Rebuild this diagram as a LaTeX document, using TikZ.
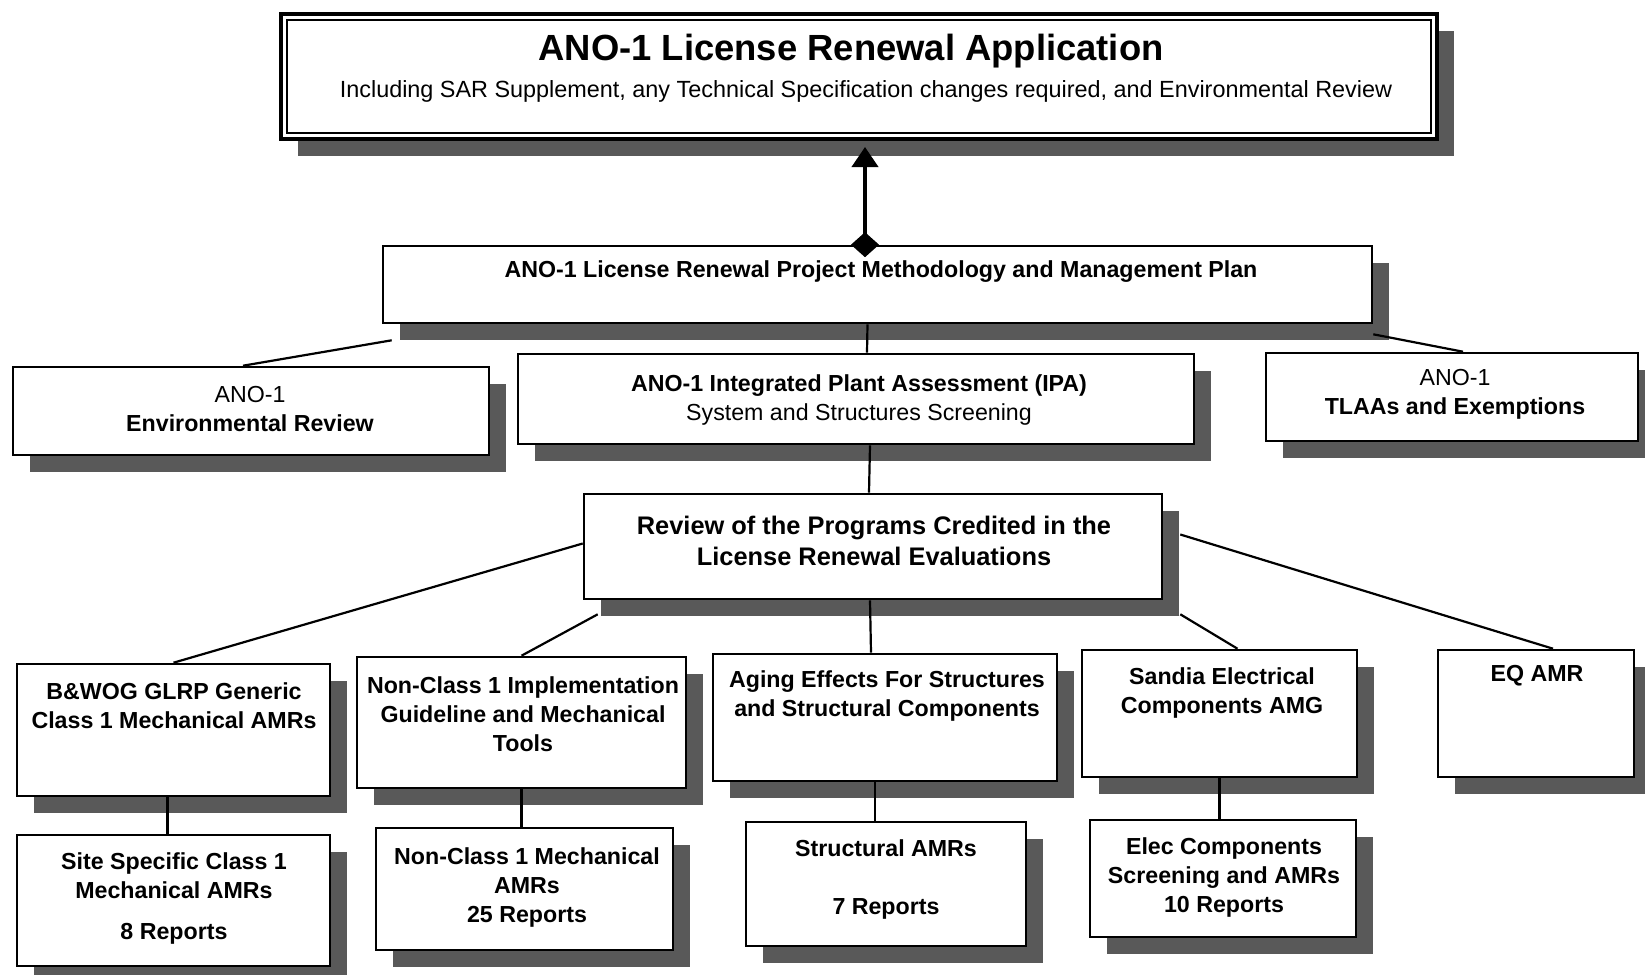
\documentclass[tikz,border=0pt]{standalone}
\usepackage{fontspec}
\setmainfont{Liberation Sans}
\usetikzlibrary{arrows.meta,shadows,fit}

\begin{document}
\begin{tikzpicture}[x=0.5pt,y=-0.5pt,
  box/.style={draw, line width=1.3pt, fill=white, inner sep=0pt,
    drop shadow={shadow xshift=8.5pt, shadow yshift=-8.5pt, fill=black!65, opacity=1}},
  txt/.style={align=center, inner sep=0pt, font=\fontsize{11.6}{14.5}\selectfont\bfseries},
  link/.style={line width=1.1pt}]
\useasboundingbox (0,0) rectangle (1645,975);

% top level
\node[box, line width=2pt, fit={(281,14) (1437,139)}] (app) {};
\draw[line width=0.8pt] ([shift={(8,8)}]app.north west) rectangle ([shift={(-8,-8)}]app.south east);
\node[txt, font=\fontsize{18.2}{22}\selectfont\bfseries] (app-t) at (851,51) {ANO-1 License Renewal Application};
\node[txt, font=\fontsize{11.7}{14}\selectfont] (app-s) at (866,91) {Including SAR Supplement, any Technical Specification changes required, and Environmental Review};

\node[box, fit={(383,246) (1372,323)}] (plan) {};
\node[txt] (plan-t) at (881,272) {ANO-1 License Renewal Project Methodology and Management Plan};

% second row
\node[box, fit={(13,367) (489,455)}] (env) {};
\node[box, fit={(518,354) (1194,444)}] (ipa) {};
\node[box, fit={(1266,353) (1638,441)}] (tlaa) {};
\node[txt] (env-t) at (250,409) {{\mdseries ANO-1}\\Environmental Review};
\node[txt] (ipa-t) at (859,400) {ANO-1 Integrated Plant Assessment (IPA)\\{\mdseries System and Structures Screening}};
\node[txt] (tlaa-t) at (1455,394) {{\mdseries ANO-1}\\TLAAs and Exemptions};

\node[box, fit={(584,494) (1162,599)}] (review) {};
\node[txt, font=\fontsize{12.7}{15.8}\selectfont\bfseries] (review-t) at (874,541) {Review of the Programs Credited in the\\License Renewal Evaluations};

% programs
\node[box, fit={(17,664) (330,796)}] (bwog) {};
\node[box, fit={(357,657) (686,788)}] (impl) {};
\node[box, fit={(713,654) (1057,781)}] (aging) {};
\node[box, fit={(1082,650) (1357,777)}] (sandia) {};
\node[box, fit={(1438,650) (1634,777)}] (eq) {};
\node[txt] (bwog-t) at (174,706) {B\&WOG GLRP Generic\\Class 1 Mechanical AMRs};
\node[txt] (impl-t) at (523,714) {Non-Class 1 Implementation\\Guideline and Mechanical\\Tools};
\node[txt] (aging-t) at (887,696) {Aging Effects For Structures\\and Structural Components};
\node[txt] (sandia-t) at (1222,693) {Sandia Electrical\\Components AMG};
\node[txt] (eq-t) at (1537,676) {EQ AMR};

% reports
\node[box, fit={(17,835) (330,966)}] (site) {};
\node[box, fit={(376,828) (673,950)}] (mech) {};
\node[box, fit={(746,822) (1026,946)}] (struct) {};
\node[box, fit={(1090,820) (1356,937)}] (elec) {};
\node[txt] (site-t) at (174,898) {Site Specific Class 1\\Mechanical AMRs\\[6pt]8 Reports};
\node[txt] (mech-t) at (527,887) {Non-Class 1 Mechanical\\AMRs\\25 Reports};
\node[txt] (struct-t) at (886,879) {Structural AMRs\\[14.5pt]7 Reports};
\node[txt] (elec-t) at (1224,877) {Elec Components\\Screening and AMRs\\10 Reports};

% connectors
\draw[line width=2pt, {Diamond[length=12.5pt,width=14pt]}-{Triangle[length=10pt,width=13pt]}] ([shift={(-12.5,12.5)}]plan.north) -- ([shift={(6,6)}]app.south);
\draw[link] ([shift={(10,16)}]plan.south west) -- ([shift={(-8,0)}]env.north);
\draw[link] ([shift={(0,10)}]plan.south east) -- ([shift={(11,0)}]tlaa.north);
\draw[link] ([shift={(-10,0)}]plan.south) -- ([shift={(11,0)}]ipa.north);
\draw[link] ([shift={(14,0)}]ipa.south) -- ([shift={(-4,0)}]review.north);
\draw[link] ([shift={(0,-3)}]review.west) -- (bwog.north);
\draw[link] ([shift={(15,14)}]review.south west) -- (impl.north);
\draw[link] ([shift={(-3,0)}]review.south) -- ([shift={(-14,0)}]aging.north);
\draw[link] ([shift={(17,14)}]review.south east) -- ([shift={(18,0)}]sandia.north);
\draw[link] ([shift={(17,-12)}]review.east) -- ([shift={(17,0)}]eq.north);
\draw[link] ([shift={(-6,0)}]bwog.south) -- ([shift={(-6,0)}]site.north);
\draw[link] (impl.south) -- (impl.south |- mech.north);
\draw[link] ([shift={(-10,0)}]aging.south) -- ([shift={(-11,0)}]struct.north);
\draw[link] (sandia.south) -- (sandia.south |- elec.north);
\end{tikzpicture}
\end{document}
